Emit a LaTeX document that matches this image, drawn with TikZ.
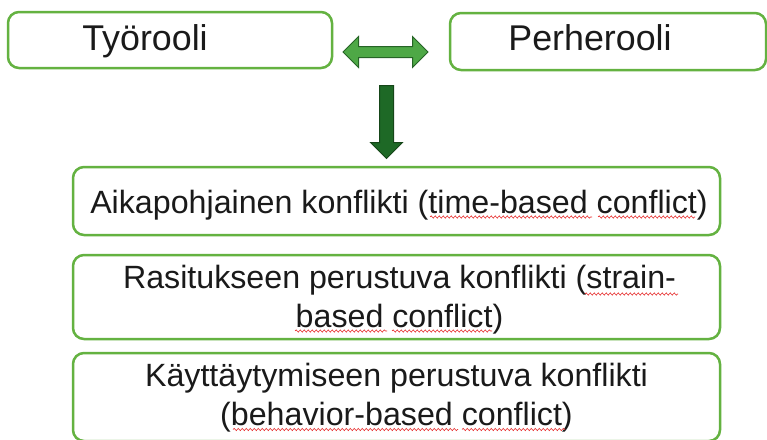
\documentclass[tikz,border=0pt]{standalone}
\usepackage{fontspec}
\setmainfont{Liberation Sans}
\usetikzlibrary{shapes.arrows,decorations.pathmorphing}
\definecolor{boxgreen}{RGB}{100,178,65}
\definecolor{lightarrow}{RGB}{78,168,70}
\definecolor{lightedge}{RGB}{38,100,38}
\definecolor{darkarrow}{RGB}{30,105,38}
\definecolor{darkedge}{RGB}{22,70,25}
\definecolor{txt}{RGB}{26,26,26}
\definecolor{wavered}{RGB}{230,40,40}
\tikzset{
  box/.style={draw=boxgreen, line width=2.5pt, rounded corners=11pt, fill=white, inner sep=0pt},
  toptext/.style={text=txt, font=\fontsize{35.8}{40}\selectfont, inner sep=0pt, anchor=base},
  bottext/.style={text=txt, font=\fontsize{32.2}{38.5}\selectfont, inner sep=0pt, anchor=base, align=center},
  wave/.style={draw=wavered, line width=0.6pt, decorate, decoration={snake, amplitude=1.1pt, segment length=4pt}}
}
\begin{document}
\begin{tikzpicture}[x=1pt,y=-1pt]
\useasboundingbox[fill=white] (0,0) rectangle (767,439);
% boxes
\node[box, minimum width=324pt, minimum height=56pt] (b1) at (170,40) {};
\node[box, minimum width=316pt, minimum height=57pt] (b2) at (608,41.5) {};
\node[box, minimum width=647pt, minimum height=68pt] (b3) at (396.5,201) {};
\node[box, minimum width=647pt, minimum height=84pt] (b4) at (396.5,297) {};
\node[box, minimum width=647pt, minimum height=88pt] (b5) at (396.5,397) {};
% texts (base anchor = baseline of last line)
\node[toptext] (t1) at (145,50) {Työrooli};
\node[toptext] (t2) at (590,50) {Perherooli};
\node[bottext] (t3) at (399,213) {Aikapohjainen konflikti (time-based conflict)};
\node[bottext] (t4) at (399.5,327) {Rasitukseen perustuva konflikti (strain-\\based conflict)};
\node[bottext] (t5) at (396.5,425) {Käyttäytymiseen perustuva konflikti\\(behavior-based conflict)};
% spell-check waves
\coordinate (w1a) at (430,217); \coordinate (w1b) at (592,217);
\coordinate (w2a) at (598,217); \coordinate (w2b) at (695,217);
\coordinate (w3a) at (585,294); \coordinate (w3b) at (678,294);
\coordinate (w4a) at (295,331); \coordinate (w4b) at (387,331);
\coordinate (w5a) at (392,331); \coordinate (w5b) at (492,331);
\coordinate (w6a) at (233,429.5); \coordinate (w6b) at (458,429.5);
\coordinate (w7a) at (462,429.5); \coordinate (w7b) at (565,429.5);
\foreach \w in {1,...,7}{\draw[wave] (w\w a) -- (w\w b);}
% block arrows
\node[double arrow, draw=lightedge, fill=lightarrow, line width=1pt, inner xsep=0pt, inner ysep=5pt,
      double arrow head extend=10pt, minimum height=85pt] (da) at (385.5,52) {};
\node[single arrow, draw=darkedge, fill=darkarrow, line width=1pt, inner xsep=0pt, inner ysep=6.5pt,
      single arrow head extend=9pt, minimum height=73pt, rotate=-90] (sa) at (386.5,118.5) {};
\end{tikzpicture}
\end{document}
